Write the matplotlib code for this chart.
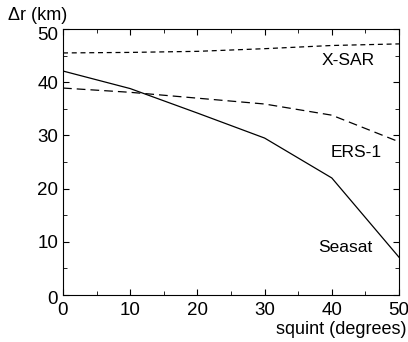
import matplotlib.pyplot as plt
from matplotlib.ticker import MultipleLocator
from matplotlib.transforms import ScaledTranslation

plt.rcParams['font.family'] = ['Liberation Sans', 'DejaVu Sans']

squint = [0, 10, 20, 30, 40, 50]
xsar = [45.5, 45.6, 45.8, 46.3, 46.9, 47.2]
ers1 = [38.9, 38.1, 37.0, 35.9, 33.8, 28.8]
seasat = [42.1, 38.8, 34.2, 29.5, 22.0, 7.1]

fig = plt.figure(figsize=(4.08, 3.42), dpi=100)
ax = fig.add_axes([63 / 408, 1 - 295 / 342, 336 / 408, 266 / 342])

ax.plot(squint, xsar, color='black', lw=0.9, dashes=(4, 3))
ax.plot(squint, ers1, color='black', lw=0.9, dashes=(7, 4))
ax.plot(squint, seasat, color='black', lw=0.9)

ax.text(46.4, 44.0, 'X-SAR', fontsize=12.5, ha='right', va='center')
ax.text(47.5, 26.8, 'ERS-1', fontsize=12.5, ha='right', va='center')
ax.text(46.1, 8.9, 'Seasat', fontsize=12.5, ha='right', va='center')

ax.set_xlim(0, 50)
ax.set_ylim(0, 50)
ax.xaxis.set_major_locator(MultipleLocator(10))
ax.xaxis.set_minor_locator(MultipleLocator(5))
ax.yaxis.set_major_locator(MultipleLocator(10))
ax.yaxis.set_minor_locator(MultipleLocator(5))
ax.tick_params(which='both', direction='in', top=True, right=True, labelsize=13.5)
ax.tick_params(which='major', length=4)
ax.tick_params(which='minor', length=3)
ax.tick_params(axis='x', pad=5)


def nudge(label, dx, dy):
    label.set_transform(label.get_transform() + ScaledTranslation(dx / 100, -dy / 100, fig.dpi_scale_trans))


# the original's tick labels sit a little off their ticks
fig.canvas.draw()
xlabels = ax.get_xticklabels()
nudge(xlabels[0], 5, 0)
nudge(xlabels[-1], -8, 0)
ylabels = ax.get_yticklabels()
nudge(ylabels[-1], 0, 6)
nudge(ylabels[-2], 0, 5)
nudge(ylabels[1], 0, 2)

fig.text(8 / 408, 1 - 16 / 342, '\u0394r (km)', fontsize=13, va='center', ha='left')
fig.text(407 / 408, 1 - 329 / 342, 'squint (degrees)', fontsize=13, va='center', ha='right')

fig.savefig('out.png', dpi=100)
